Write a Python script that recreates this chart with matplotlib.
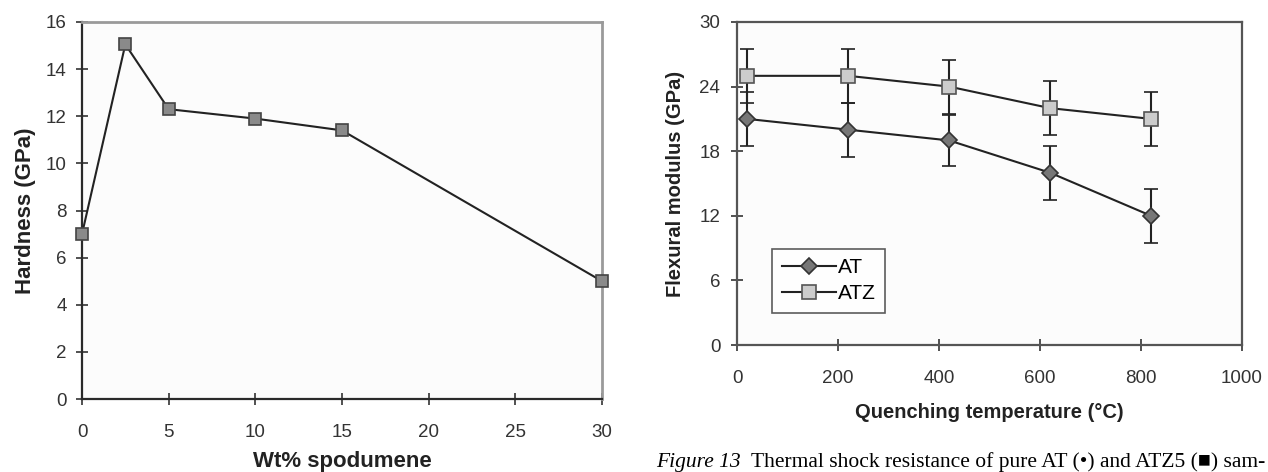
import matplotlib.pyplot as plt

plt.rcParams['font.family'] = ['Liberation Sans', 'DejaVu Sans']

# Hardness vs spodumene content
wt_spodumene = [0, 2.5, 5, 10, 15, 30]
hardness = [7.0, 15.05, 12.3, 11.9, 11.4, 5.0]

# Flexural modulus after quenching
quench_temp = [20, 220, 420, 620, 820]
modulus_at = [21.0, 20.0, 19.0, 16.0, 12.0]
modulus_atz = [25.0, 25.0, 24.0, 22.0, 21.0]
err_at = [2.5, 2.5, 2.4, 2.5, 2.5]
err_atz = [2.5, 2.5, 2.5, 2.5, 2.5]

W, H = 1268, 472
fig = plt.figure(figsize=(W / 100, H / 100), dpi=100)
fig.patch.set_facecolor('white')


def px_axes(x0, y0, x1, y1):
    return fig.add_axes([x0 / W, 1 - y1 / H, (x1 - x0) / W, (y1 - y0) / H])


tick_kw = dict(direction='inout', length=8, width=1.2, colors='#333333', labelsize=13.5)

# ---- left panel: hardness ----
ax1 = px_axes(82, 22, 602, 399)
ax1.set_facecolor('#fcfcfc')
ax1.plot(wt_spodumene, hardness, color='#222222', lw=1.5, marker='s', ms=9,
         mfc='#8a8a8a', mec='#444444', mew=1.2, zorder=3, clip_on=False)
ax1.set_xlim(0, 30)
ax1.set_ylim(0, 16)
ax1.set_xticks(range(0, 31, 5))
ax1.set_yticks(range(0, 17, 2))
ax1.tick_params(**tick_kw)
ax1.tick_params(axis='x', pad=14)
ax1.tick_params(axis='y', pad=7)
for side in ['left', 'bottom']:
    ax1.spines[side].set_color('#2a2a2a')
    ax1.spines[side].set_linewidth(1.6)
for side in ['top', 'right']:
    ax1.spines[side].set_color('#9a9a9a')
    ax1.spines[side].set_linewidth(2.0)
ax1.set_ylabel('Hardness (GPa)', fontsize=16, fontweight='bold', color='#222222')
ax1.set_xlabel('Wt% spodumene', fontsize=16, fontweight='bold', color='#222222')
ax1.yaxis.set_label_coords(-0.108, 0.5)
ax1.xaxis.set_label_coords(0.5, -0.167)
ax1.xaxis.label.set_va('center')
ax1.yaxis.label.set_va('center')

# ---- right panel: flexural modulus ----
ax2 = px_axes(737, 22, 1242, 345)
ax2.set_facecolor('#fcfcfc')
ax2.errorbar(quench_temp, modulus_at, yerr=err_at, color='#222222', lw=1.5,
             marker='D', ms=8, mfc='#777777', mec='#333333', mew=1.2,
             ecolor='#222222', elinewidth=1.5, capsize=5, capthick=1.5,
             label='AT', zorder=3)
ax2.errorbar(quench_temp, modulus_atz, yerr=err_atz, color='#222222', lw=1.5,
             marker='s', ms=10, mfc='#cccccc', mec='#555555', mew=1.2,
             ecolor='#222222', elinewidth=1.5, capsize=5, capthick=1.5,
             label='ATZ', zorder=3)
ax2.set_xlim(0, 1000)
ax2.set_ylim(0, 30)
ax2.set_xticks(range(0, 1001, 200))
ax2.set_yticks(range(0, 31, 6))
ax2.tick_params(**tick_kw)
ax2.tick_params(axis='x', pad=14)
ax2.tick_params(axis='y', pad=8)
for side in ax2.spines.values():
    side.set_color('#555555')
    side.set_linewidth(1.6)
ax2.set_ylabel('Flexural modulus (GPa)', fontsize=14.5, fontweight='bold', color='#222222')
ax2.set_xlabel('Quenching temperature (°C)', fontsize=14.5, fontweight='bold', color='#222222')
ax2.yaxis.set_label_coords(-0.121, 0.5)
ax2.xaxis.set_label_coords(0.5, -0.21)
ax2.xaxis.label.set_va('center')
ax2.yaxis.label.set_va('center')

handles, labels = ax2.get_legend_handles_labels()
handles = [h[0] for h in handles]
leg = ax2.legend(handles, labels, loc='lower left', bbox_to_anchor=(0.07, 0.10),
                 fontsize=15, frameon=True, fancybox=False, handlelength=2.6,
                 borderpad=0.45, labelspacing=0.35, handletextpad=0.1, borderaxespad=0)
leg.get_frame().set_edgecolor('#333333')
leg.get_frame().set_linewidth(1.2)

# ---- caption ----
cap_y = 1 - 467 / H
serif = ['Liberation Serif', 'DejaVu Serif']
t1 = fig.text(656 / W, cap_y, 'Figure 13', fontsize=15.5, style='italic',
              family=serif, va='baseline', ha='left')
fig.canvas.draw()
bb = t1.get_window_extent()
fig.text((bb.x1 + 10) / W, cap_y,
         'Thermal shock resistance of pure AT (\u2022) and ATZ5 (\u25a0) sam-',
         fontsize=15.5, family=serif, va='baseline', ha='left')

fig.savefig('out.png', dpi=100)
